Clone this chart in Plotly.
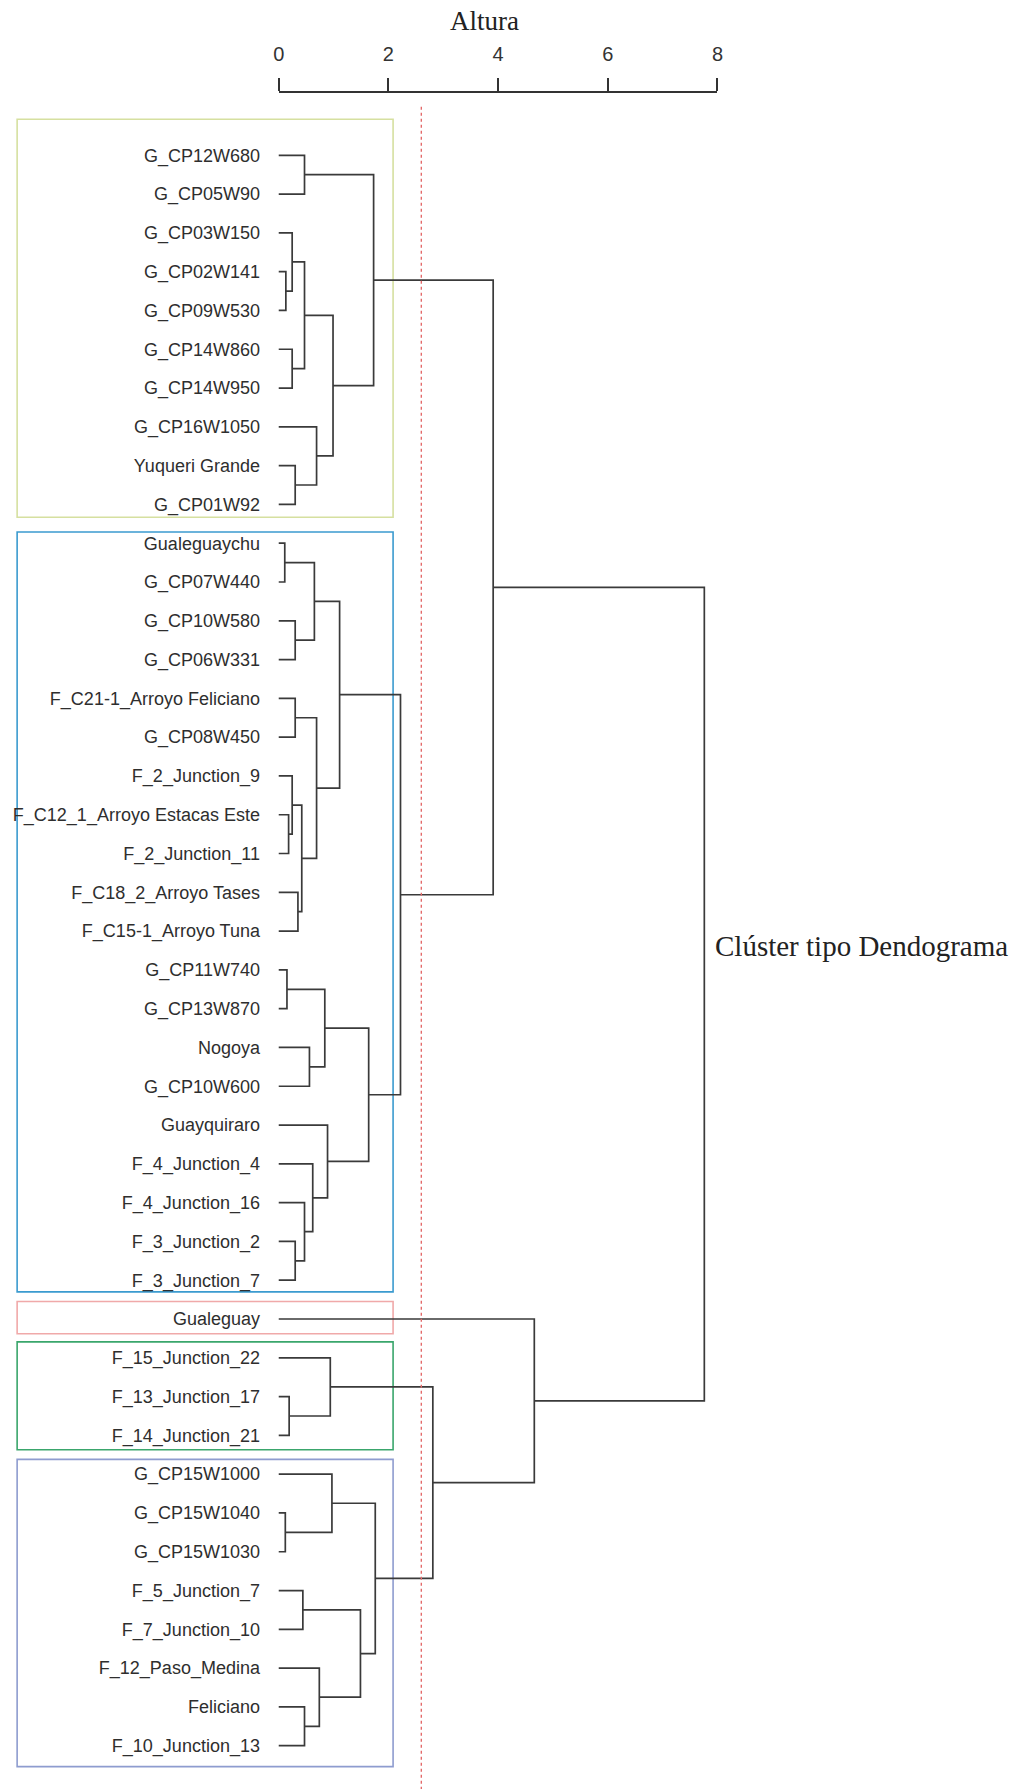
import plotly.graph_objects as go

# ---- data -----------------------------------------------------------------
leaf_labels = [
    "G_CP12W680", "G_CP05W90", "G_CP03W150", "G_CP02W141", "G_CP09W530",
    "G_CP14W860", "G_CP14W950", "G_CP16W1050", "Yuqueri Grande", "G_CP01W92",
    "Gualeguaychu", "G_CP07W440", "G_CP10W580", "G_CP06W331",
    "F_C21-1_Arroyo Feliciano", "G_CP08W450", "F_2_Junction_9",
    "F_C12_1_Arroyo Estacas Este", "F_2_Junction_11", "F_C18_2_Arroyo Tases",
    "F_C15-1_Arroyo Tuna", "G_CP11W740", "G_CP13W870", "Nogoya", "G_CP10W600",
    "Guayquiraro", "F_4_Junction_4", "F_4_Junction_16", "F_3_Junction_2",
    "F_3_Junction_7", "Gualeguay", "F_15_Junction_22", "F_13_Junction_17",
    "F_14_Junction_21", "G_CP15W1000", "G_CP15W1040", "G_CP15W1030",
    "F_5_Junction_7", "F_7_Junction_10", "F_12_Paso_Medina", "Feliciano",
    "F_10_Junction_13",
]

# merge steps: (left child, right child, height); a string is a leaf,
# an integer refers to an earlier merge step
merge_left = [
    "G_CP12W680", "G_CP02W141", "G_CP03W150", "G_CP14W860", 2,
    "Yuqueri Grande", "G_CP16W1050", 4, 0,
    "Gualeguaychu", "G_CP10W580", 9, "F_C21-1_Arroyo Feliciano",
    "F_C12_1_Arroyo Estacas Este", "F_2_Junction_9", "F_C18_2_Arroyo Tases",
    14, 12, 11, "G_CP11W740", "Nogoya", 19, "F_3_Junction_2",
    "F_4_Junction_16", "F_4_Junction_4", "Guayquiraro", 21, 18, 8,
    "F_13_Junction_17", "F_15_Junction_22", "G_CP15W1040", "G_CP15W1000",
    "F_5_Junction_7", "Feliciano", "F_12_Paso_Medina", 33, 32, 30,
    "Gualeguay", 28,
]
merge_right = [
    "G_CP05W90", "G_CP09W530", 1, "G_CP14W950", 3,
    "G_CP01W92", 5, 6, 7,
    "G_CP07W440", "G_CP06W331", 10, "G_CP08W450",
    "F_2_Junction_11", 13, "F_C15-1_Arroyo Tuna",
    15, 16, 17, "G_CP13W870", "G_CP10W600", 20, "F_3_Junction_7",
    22, 23, 24, 25, 26, 27,
    "F_14_Junction_21", 29, "G_CP15W1030", 31,
    "F_7_Junction_10", "F_10_Junction_13", 34, 35, 36, 37,
    38, 39,
]
merge_height = [
    0.47, 0.13, 0.245, 0.245, 0.47,
    0.30, 0.69, 0.99, 1.73,
    0.11, 0.30, 0.65, 0.30,
    0.18, 0.245, 0.35,
    0.42, 0.69, 1.11, 0.15, 0.56, 0.84, 0.30,
    0.47, 0.62, 0.89, 1.64, 2.22, 3.91,
    0.19, 0.94, 0.12, 0.97,
    0.44, 0.47, 0.74, 1.49, 1.76, 2.81,
    4.66, 7.76,
]

cut_height = 2.60
axis_ticks = [0, 2, 4, 6, 8]

# highlighted clusters: first leaf, last leaf, outline colour
cluster_first = ["G_CP12W680", "Gualeguaychu", "Gualeguay", "F_15_Junction_22", "G_CP15W1000"]
cluster_last = ["G_CP01W92", "F_3_Junction_7", "Gualeguay", "F_14_Junction_21", "F_10_Junction_13"]
cluster_colors = ["#d6e0a0", "#3b9bcf", "#f0a9a9", "#3aa66c", "#8e9ccf"]

# ---- page geometry --------------------------------------------------------
W, H = 1014, 1789
X0_PX, PX_PER_UNIT = 276.0, 55.5      # where height 0 sits, pixels per unit
LEAF0_PX, LEAF_STEP = 155.3, 38.79    # first leaf row, row spacing
BOX_LEFT, BOX_RIGHT = -4.77, 2.085    # cluster boxes, in height units
BOX_PAD_TOP = [0.93, 0.29, 0.45, 0.41, 0.38]
BOX_PAD_BOTTOM = [0.33, 0.30, 0.38, 0.37, 0.54]

x_range = [-X0_PX / PX_PER_UNIT, (W - X0_PX) / PX_PER_UNIT]
y_range = [(H - LEAF0_PX) / LEAF_STEP, -LEAF0_PX / LEAF_STEP]

# ---- dendrogram segments --------------------------------------------------
leaf_pos = {name: i for i, name in enumerate(leaf_labels)}
node_pos, node_h = [], []
seg_x, seg_y = [], []


def child(c):
    if isinstance(c, str):
        return leaf_pos[c], 0.0
    return node_pos[c], node_h[c]


for a, b, h in zip(merge_left, merge_right, merge_height):
    ya, ha = child(a)
    yb, hb = child(b)
    seg_x += [ha, h, h, hb, None]
    seg_y += [ya, ya, yb, yb, None]
    node_pos.append((ya + yb) / 2)
    node_h.append(h)

fig = go.Figure()

fig.add_trace(go.Scatter(
    x=seg_x, y=seg_y, mode="lines",
    line=dict(color="#3a3a3a", width=1.7),
    hoverinfo="skip", showlegend=False,
))

# cut line
fig.add_trace(go.Scatter(
    x=[cut_height, cut_height],
    y=[(106.7 - LEAF0_PX) / LEAF_STEP, y_range[0]],
    mode="lines", xaxis="x2", yaxis="y",
    line=dict(color="#e36a6a", width=1.4, dash="dot"),
    hoverinfo="skip", showlegend=False,
))

for first, last, col, pt, pb in zip(cluster_first, cluster_last, cluster_colors,
                                    BOX_PAD_TOP, BOX_PAD_BOTTOM):
    fig.add_shape(
        type="rect", xref="x", yref="y",
        x0=BOX_LEFT, x1=BOX_RIGHT,
        y0=leaf_pos[first] - pt, y1=leaf_pos[last] + pb,
        line=dict(color=col, width=1.6), fillcolor="rgba(0,0,0,0)",
        layer="below",
    )

fig.add_annotation(
    text="Altura", xref="paper", yref="paper",
    x=484.5 / W, y=1 - 20.5 / H, xanchor="center", yanchor="middle",
    showarrow=False, font=dict(family="Liberation Serif", size=27, color="#222222"),
)
fig.add_annotation(
    text="Clúster tipo Dendograma", xref="paper", yref="paper",
    x=715 / W, y=1 - 946 / H, xanchor="left", yanchor="middle",
    showarrow=False, font=dict(family="Liberation Serif", size=29, color="#222222"),
)

fig.update_layout(
    width=W, height=H,
    margin=dict(l=0, r=0, t=0, b=0),
    paper_bgcolor="white", plot_bgcolor="rgba(0,0,0,0)",
    showlegend=False,
    xaxis=dict(range=x_range, visible=False, domain=[0, 1]),
    xaxis2=dict(
        range=[0, 8], domain=[X0_PX / W, (X0_PX + 8 * PX_PER_UNIT) / W],
        anchor="free", position=1 - 91.7 / H, side="top",
        tickvals=axis_ticks, ticktext=[str(t) for t in axis_ticks],
        ticks="outside", ticklen=13, tickwidth=2, tickcolor="#333333",
        showline=True, linecolor="#333333", linewidth=2,
        showgrid=False, zeroline=False,
        tickfont=dict(family="Liberation Sans", size=20, color="#333333"),
        ticklabelstandoff=9,
    ),
    yaxis=dict(
        range=y_range, domain=[0, 1],
        anchor="free", position=257 / W, side="left",
        tickvals=list(range(len(leaf_labels))), ticktext=leaf_labels,
        ticks="", showline=False, showgrid=False, zeroline=False,
        tickfont=dict(family="Liberation Sans", size=18, color="#2e2e2e"),
    ),
)

fig.write_html("out.html")
